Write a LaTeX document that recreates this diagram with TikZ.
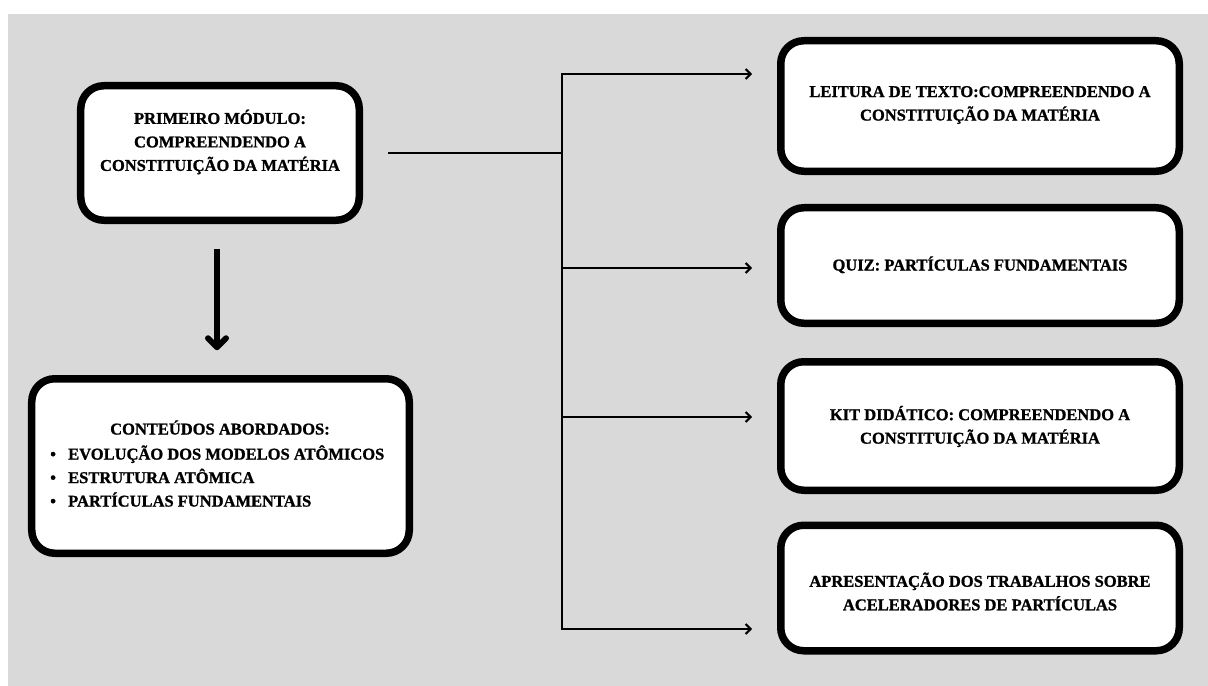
\documentclass[tikz,border=0pt]{standalone}
\usepackage{fontspec}
\setmainfont{Liberation Serif}
\newfontfamily\cardfont{Liberation Serif}[BoldFeatures={FakeBold=1.1}]
\usetikzlibrary{arrows.meta}
\definecolor{panelgray}{RGB}{217,217,217}
\begin{document}
\begin{tikzpicture}[x=1bp,y=-1bp,
  card/.style={draw=black, fill=white, line width=7.5bp, rounded corners=23bp, inner sep=0pt},
  cardtext/.style={font=\cardfont\bfseries\fontsize{16.5bp}{23.5bp}\selectfont, align=center, inner sep=0pt},
  wire/.style={line width=2bp},
  feed/.style={wire, -{Straight Barb[length=5bp,width=10bp]}},
  bigdown/.style={line width=6bp, -{Straight Barb[length=9bp,width=18bp,round]}}
]
\useasboundingbox (0,0) rectangle (1208,686);
\fill[white] (0,0) rectangle (1208,686);
\fill[panelgray] (8,14) rectangle (1208,686);

% left column
\node[card, minimum width=278.5bp, minimum height=134.5bp] (m1) at (220,153) {};
\node[cardtext] (m1t) at (220,142) {PRIMEIRO MÓDULO:\\COMPREENDENDO A\\CONSTITUIÇÃO DA MATÉRIA};

\node[card, minimum width=377.5bp, minimum height=174.5bp] (m2) at (220.5,466) {};
\node[cardtext, anchor=base] (m2h) at (220,434.5) {CONTEÚDOS ABORDADOS:};
\node[cardtext, align=left, anchor=west] (m2l) at (50,476)
  {\makebox[18bp][l]{•}EVOLUÇÃO DOS MODELOS ATÔMICOS\\
   \makebox[18bp][l]{•}ESTRUTURA ATÔMICA\\
   \makebox[18bp][l]{•}PARTÍCULAS FUNDAMENTAIS};

% right column
\node[card, minimum width=398.5bp, minimum height=130.5bp] (ra) at (980,106) {};
\node[cardtext] (rat) at (980,105) {LEITURA DE TEXTO:COMPREENDENDO A\\CONSTITUIÇÃO DA MATÉRIA};

\node[card, minimum width=398.5bp, minimum height=115.5bp] (rb) at (980,265.5) {};
\node[cardtext, anchor=base] (rbt) at (980,270.5) {QUIZ: PARTÍCULAS FUNDAMENTAIS};

\node[card, minimum width=398.5bp, minimum height=128.5bp] (rc) at (980,426) {};
\node[cardtext] (rct) at (980,426.5) {KIT DIDÁTICO: COMPREENDENDO A\\CONSTITUIÇÃO DA MATÉRIA};

\node[card, minimum width=398.5bp, minimum height=125.5bp] (rd) at (980,588) {};
\node[cardtext] (rdt) at (980,591.5) {APRESENTAÇÃO DOS TRABALHOS SOBRE\\ACELERADORES DE PARTÍCULAS};

% distribution bus
\coordinate (ja) at (562,74);
\coordinate (jb) at (562,268);
\coordinate (jc) at (562,417);
\coordinate (jd) at (562,629);

\draw[wire, shorten <=25bp] (m1.east) -- (m1.east -| ja);
\draw[wire, {Straight Barb[length=5bp,width=10bp]}-{Straight Barb[length=5bp,width=10bp]},
      shorten <=25bp, shorten >=25bp] (ja -| ra.west) -- (ja) -- (jd) -- (jd -| rd.west);
\draw[feed, shorten >=25bp] (jb) -- (jb -| rb.west);
\draw[feed, shorten >=25bp] (jc) -- (jc -| rc.west);

% downward arrow
\draw[bigdown, shorten <=24.75bp, shorten >=24.75bp]
  ([xshift=-3bp]m1.south) -- ([xshift=-3bp]m1.south |- m2.north);
\end{tikzpicture}
\end{document}
